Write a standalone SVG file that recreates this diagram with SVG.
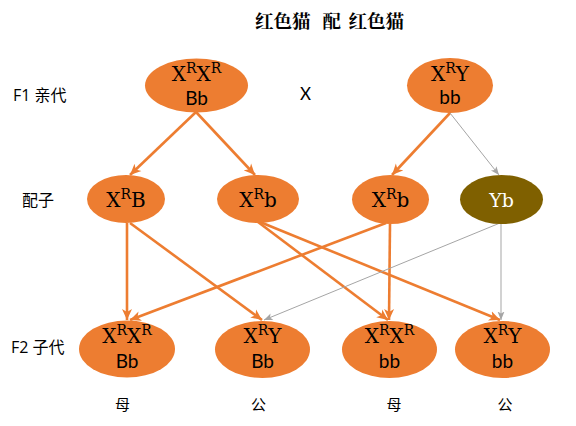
<svg xmlns="http://www.w3.org/2000/svg" width="576" height="426" viewBox="0 0 576 426">
<defs>
<marker id="ao" markerUnits="userSpaceOnUse" markerWidth="12" markerHeight="12" viewBox="0 0 12 12" refX="11" refY="6" orient="auto">
<path d="M0,1 L11,6 L0,11 L3,6 Z" fill="#ED7D31"/>
</marker>
<marker id="ag" markerUnits="userSpaceOnUse" markerWidth="9" markerHeight="9" viewBox="0 0 9 9" refX="8.5" refY="4.5" orient="auto">
<path d="M0,1 L8.5,4.5 L0,8 L2,4.5 Z" fill="#A5A5A5"/>
</marker>
<style>
.o{fill:#ED7D31}
.y{fill:#7F6000}
.eo{stroke:#ED7D31;stroke-width:2.6;fill:none;marker-end:url(#ao)}
.eg{stroke:#A5A5A5;stroke-width:1;fill:none;marker-end:url(#ag)}
.sr{font-family:"DejaVu Serif","Liberation Serif",serif;font-size:20px;fill:#000;text-anchor:middle}
.ss{font-family:Lato,"Open Sans",sans-serif;font-size:19px;fill:#000;text-anchor:middle}
.lb{font-family:"Open Sans","Noto Sans CJK SC",sans-serif;font-size:16px;fill:#000}
.cj{font-family:"Noto Sans CJK SC",sans-serif;font-size:15px;fill:#000;text-anchor:middle}
.ti{font-family:"Noto Serif CJK SC","Noto Sans CJK SC",serif;font-size:18.5px;font-weight:bold;fill:#000}
.sup{font-size:14px}
</style>
</defs>
<text class="ti" x="255" y="28">红色猫</text>
<text class="ti" x="322.5" y="28">配</text>
<text class="ti" x="348.5" y="28">红色猫</text>
<text class="lb" x="13" y="101">F1 亲代</text>
<text class="lb" x="22" y="206">配子</text>
<text class="lb" x="11" y="353">F2 子代</text>
<text x="305.5" y="100" style="font-family:Lato,'Open Sans',sans-serif;font-size:17px;text-anchor:middle">X</text>
<g id="connectors">
<line class="eo" x1="196" y1="112" x2="130" y2="175"/>
<line class="eo" x1="196" y1="112" x2="255" y2="175"/>
<line class="eo" x1="450" y1="113" x2="392" y2="175"/>
<line class="eg" x1="450" y1="113" x2="499" y2="175"/>
<line class="eo" x1="127" y1="223" x2="127" y2="320"/>
<line class="eo" x1="130" y1="223" x2="262" y2="320"/>
<line class="eo" x1="258" y1="222" x2="388" y2="320"/>
<line class="eo" x1="260" y1="222" x2="500" y2="320"/>
<line class="eo" x1="386" y1="223" x2="130" y2="320"/>
<line class="eo" x1="390" y1="224" x2="389" y2="320"/>
<line class="eg" x1="500" y1="223" x2="264" y2="320"/>
<line class="eg" x1="501" y1="224" x2="501" y2="320"/>
</g>
<g id="p1">
<ellipse class="o" cx="196.5" cy="85.5" rx="51.5" ry="27"/>
<text class="sr" x="196.5" y="81">X<tspan class="sup" dy="-8">R</tspan><tspan dy="8">X</tspan><tspan class="sup" dy="-8">R</tspan></text>
<text class="ss" x="196.5" y="105">Bb</text>
</g>
<g id="p2">
<ellipse class="o" cx="450" cy="85.5" rx="43" ry="27.5"/>
<text class="sr" x="450" y="81">X<tspan class="sup" dy="-8">R</tspan><tspan dy="8">Y</tspan></text>
<text class="ss" x="450" y="104">bb</text>
</g>
<g id="g1">
<ellipse class="o" cx="126" cy="199" rx="39" ry="24"/>
<text class="sr" x="126" y="207">X<tspan class="sup" dy="-8">R</tspan><tspan dy="8">B</tspan></text>
</g>
<g id="g2">
<ellipse class="o" cx="258" cy="199" rx="41" ry="24"/>
<text class="sr" x="258" y="207">X<tspan class="sup" dy="-8">R</tspan><tspan dy="8">b</tspan></text>
</g>
<g id="g3">
<ellipse class="o" cx="390.5" cy="199.5" rx="38.5" ry="24.5"/>
<text class="sr" x="390.5" y="207">X<tspan class="sup" dy="-8">R</tspan><tspan dy="8">b</tspan></text>
</g>
<g id="g4">
<ellipse class="y" cx="501.5" cy="199.5" rx="41.5" ry="24.5"/>
<text class="sr" x="501.5" y="206.5" style="fill:#fff;font-size:19px">Yb</text>
</g>
<g id="c1">
<ellipse class="o" cx="127" cy="349" rx="48" ry="28.5"/>
<text class="sr" x="127" y="343">X<tspan class="sup" dy="-8">R</tspan><tspan dy="8">X</tspan><tspan class="sup" dy="-8">R</tspan></text>
<text class="ss" x="127" y="368">Bb</text>
</g>
<g id="c2">
<ellipse class="o" cx="262.5" cy="349.5" rx="47.5" ry="28.5"/>
<text class="sr" x="262.5" y="343">X<tspan class="sup" dy="-8">R</tspan><tspan dy="8">Y</tspan></text>
<text class="ss" x="262.5" y="368">Bb</text>
</g>
<g id="c3">
<ellipse class="o" cx="389.5" cy="349.5" rx="47.5" ry="28.5"/>
<text class="sr" x="389.5" y="343">X<tspan class="sup" dy="-8">R</tspan><tspan dy="8">X</tspan><tspan class="sup" dy="-8">R</tspan></text>
<text class="ss" x="389.5" y="368">bb</text>
</g>
<g id="c4">
<ellipse class="o" cx="502.5" cy="349.5" rx="47.5" ry="28.5"/>
<text class="sr" x="502.5" y="343">X<tspan class="sup" dy="-8">R</tspan><tspan dy="8">Y</tspan></text>
<text class="ss" x="502.5" y="368">bb</text>
</g>
<text class="cj" x="122.5" y="410">母</text>
<text class="cj" x="258.5" y="410">公</text>
<text class="cj" x="394" y="410">母</text>
<text class="cj" x="505" y="410">公</text>
</svg>
